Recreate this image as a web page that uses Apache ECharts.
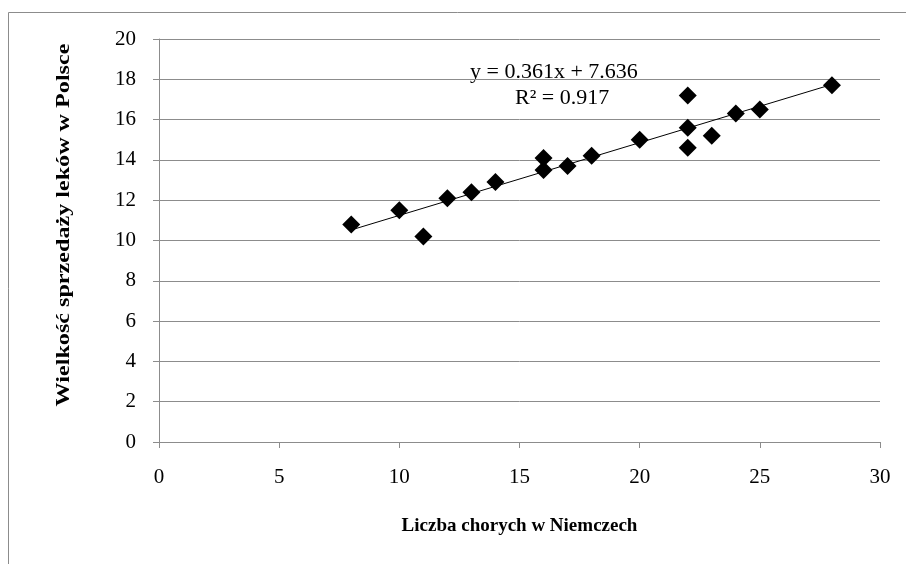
<!DOCTYPE html>
<html>
<head>
<meta charset="utf-8">
<script src="https://cdn.jsdelivr.net/npm/echarts@6/dist/echarts.min.js"></script>
<style>
  html, body { margin: 0; padding: 0; background: #fff; }
  #chart { width: 906px; height: 564px; }
</style>
</head>
<body>
<div id="chart"></div>
<script>
// values
const chorzyNiemcy = [8, 10, 11, 12, 13, 14, 16, 16, 17, 18, 20, 22, 22, 22, 23, 24, 25, 28]
const sprzedazPolska = [10.8, 11.5, 10.2, 12.1, 12.4, 12.9, 14.1, 13.5, 13.7, 14.2, 15.0, 17.2, 15.6, 14.6, 15.2, 16.3, 16.5, 17.7]
const xTicks = [0, 5, 10, 15, 20, 25, 30]
const yTicks = [0, 2, 4, 6, 8, 10, 12, 14, 16, 18, 20]
// trendline as printed on the chart
const slope = 0.361
const intercept = 7.636
const trendX = [8, 28]

const serif = '"Liberation Serif", "Times New Roman", serif'

const chart = echarts.init(document.getElementById('chart'))

const points = chorzyNiemcy.map((x, i) => [x, sprzedazPolska[i]])
const trend = trendX.map(x => [x, slope * x + intercept])

const option = {
  animation: false,
  backgroundColor: '#fff',
  grid: {
    left: 159,
    right: 26,
    top: 39,
    bottom: 122
  },
  xAxis: {
    type: 'value',
    min: xTicks[0],
    max: xTicks[xTicks.length - 1],
    interval: 5,
    name: 'Liczba chorych w Niemczech',
    nameLocation: 'middle',
    nameGap: 75,
    nameTextStyle: {
      fontFamily: serif,
      fontWeight: 'bold',
      fontSize: 19,
      color: '#000'
    },
    axisLine: { show: true, lineStyle: { color: '#8c8c8c', width: 1 } },
    axisTick: { show: true, inside: false, length: 6, lineStyle: { color: '#8c8c8c' } },
    axisLabel: { margin: 25, fontFamily: serif, fontSize: 21, color: '#000' },
    splitLine: { show: false }
  },
  yAxis: {
    type: 'value',
    min: yTicks[0],
    max: yTicks[yTicks.length - 1],
    interval: 2,
    axisLine: { show: true, lineStyle: { color: '#8c8c8c', width: 1 } },
    axisTick: { show: true, inside: false, length: 6, lineStyle: { color: '#8c8c8c' } },
    axisLabel: { margin: 23, fontFamily: serif, fontSize: 21, color: '#000' },
    splitLine: { show: true, lineStyle: { color: '#8c8c8c', width: 1 } }
  },
  graphic: [
    {
      type: 'rect',
      shape: { x: 8.5, y: 12.5, width: 1000, height: 1000 },
      style: { fill: 'none', stroke: '#8c8c8c', lineWidth: 1 },
      silent: true
    },
    {
      // y axis title, drawn stretched along its length like the original
      type: 'text',
      x: 64,
      y: 225,
      rotation: Math.PI / 2,
      scaleX: 1.27,
      style: {
        text: 'Wielkość sprzedaży leków w Polsce',
        font: 'bold 19px ' + serif,
        fill: '#000',
        align: 'center',
        verticalAlign: 'middle'
      }
    },
    {
      type: 'text',
      left: 470,
      top: 61,
      style: {
        text: 'y = 0.361x + 7.636',
        font: '22px ' + serif,
        fill: '#000'
      }
    },
    {
      type: 'text',
      left: 515,
      top: 87,
      style: {
        text: 'R² = 0.917',
        font: '22px ' + serif,
        fill: '#000'
      }
    }
  ],
  series: [
    {
      type: 'line',
      data: trend,
      symbol: 'none',
      lineStyle: { color: '#000', width: 1 },
      z: 2
    },
    {
      type: 'scatter',
      data: points,
      symbol: 'diamond',
      symbolSize: [18, 18],
      itemStyle: { color: '#000', opacity: 1 },
      z: 3
    }
  ]
}

chart.setOption(option)
</script>
</body>
</html>
